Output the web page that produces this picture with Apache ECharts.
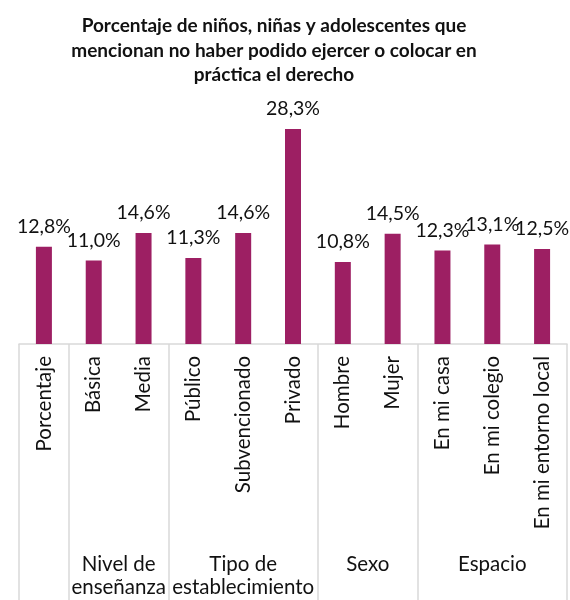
<!DOCTYPE html>
<html>
<head>
<meta charset="utf-8">
<script src="https://cdn.jsdelivr.net/npm/echarts@6/dist/echarts.min.js"></script>
<style>
  html, body { margin: 0; padding: 0; background: #ffffff; }
  #chart { width: 570px; height: 600px; }
</style>
</head>
<body>
<div id="chart"></div>
<script>
// Category labels along the bottom axis
const categories = ['Porcentaje', 'Básica', 'Media', 'Público', 'Subvencionado', 'Privado',
  'Hombre', 'Mujer', 'En mi casa', 'En mi colegio', 'En mi entorno local'];
// Percentage of children per category
const values = [12.8, 11.0, 14.6, 11.3, 14.6, 28.3, 10.8, 14.5, 12.3, 13.1, 12.5];
// Grouping level below the categories
const groupNames = ['', 'Nivel de\nenseñanza', 'Tipo de\nestablecimiento', 'Sexo', 'Espacio'];
const groupSizes = [1, 2, 3, 2, 3];

const FONT = 'Lato';
const TEXT = '#111111';
const BAR = '#9D1F63';
const RULE = '#d9d9d9';

// First category index of each group -> tick boundaries
const groupStarts = [];
const groupCenters = {};
let acc = 0;
groupSizes.forEach((n, i) => {
  groupStarts.push(acc);
  groupCenters[(acc + n / 2).toFixed(1)] = groupNames[i];
  acc += n;
});

const fmt = v => v.toFixed(1).replace('.', ',') + '%';

const chart = echarts.init(document.getElementById('chart'));
chart.setOption({
  animation: false,
  title: {
    text: 'Porcentaje de niños, niñas y adolescentes que\nmencionan no haber podido ejercer o colocar en\npráctica el derecho',
    left: 269,
    textAlign: 'center',
    top: 9,
    textStyle: { fontFamily: FONT, fontWeight: 'bold', fontSize: 19, lineHeight: 24.5, color: TEXT }
  },
  grid: { left: 19, right: 3, top: 116, bottom: 256, containLabel: false },
  xAxis: [
    {
      type: 'category',
      data: categories,
      boundaryGap: true,
      axisLine: { show: true, lineStyle: { color: RULE, width: 1.5 } },
      axisTick: {
        show: true,
        length: 256,
        interval: (index) => groupStarts.indexOf(index) !== -1,
        lineStyle: { color: RULE, width: 1.5 }
      },
      axisLabel: {
        interval: 0,
        rotate: 90,
        margin: 12,
        fontFamily: FONT,
        fontSize: 20.5,
        color: TEXT
      },
      splitLine: { show: false }
    },
    {
      type: 'value',
      min: 0,
      max: categories.length,
      interval: 0.5,
      position: 'bottom',
      axisLine: { show: false },
      axisTick: { show: false },
      splitLine: { show: false },
      axisLabel: {
        margin: 209,
        fontFamily: FONT,
        fontSize: 20.5,
        lineHeight: 23,
        color: TEXT,
        formatter: v => groupCenters[v.toFixed(1)] || ''
      }
    }
  ],
  yAxis: {
    type: 'value',
    min: 0,
    max: 30,
    show: false,
    splitLine: { show: false }
  },
  series: [{
    type: 'bar',
    data: values,
    barWidth: 16,
    itemStyle: { color: BAR },
    label: {
      show: true,
      position: 'top',
      distance: 10,
      fontFamily: FONT,
      fontSize: 19.5,
      color: TEXT,
      formatter: p => fmt(p.value)
    }
  }]
});
</script>
</body>
</html>
